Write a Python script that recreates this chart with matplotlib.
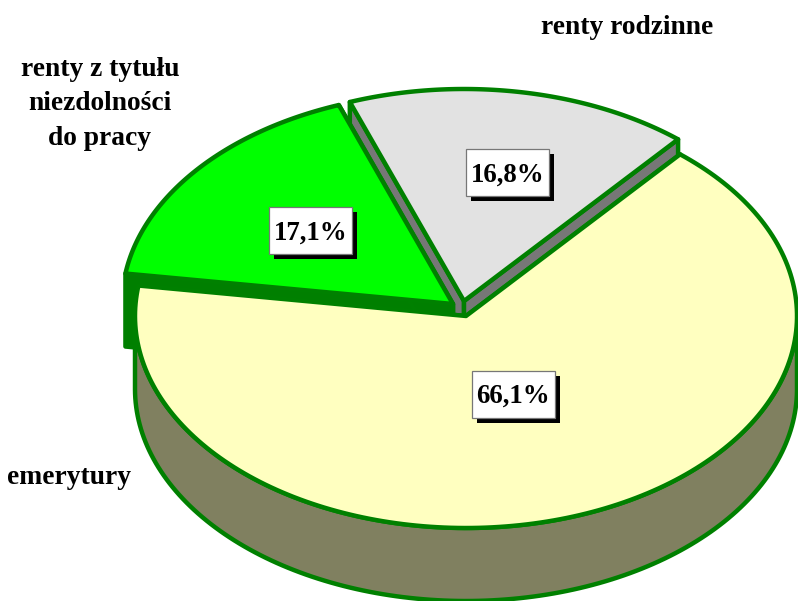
import numpy as np
import matplotlib
matplotlib.use("Agg")
import matplotlib.pyplot as plt
from matplotlib.patches import Polygon, Rectangle

categories = ["emerytury", "renty z tytułu\nniezdolności\ndo pracy", "renty rodzinne"]
shares = [66.1, 17.1, 16.8]
value_labels = ["66,1%", "17,1%", "16,8%"]
top_colors = ["#FFFFC0", "#00FF00", "#E2E2E2"]
side_colors = ["#808060", "#007F00", "#777777"]
edge_color = "#008000"
centers = [(466, 316), (453, 304), (464, 301)]
box_centers = [(513, 394), (310.5, 230.5), (507.5, 172.5)]
name_pos = [(69.5, 478), (100, 104), (627, 28)]

START = 49.7
RX, RY, DEPTH = 331, 212, 73
LW = 3.2
plt.rcParams["font.family"] = ["Liberation Serif", "DejaVu Serif"]

fig = plt.figure(figsize=(7.98, 6.01), dpi=100, facecolor="white")
ax = fig.add_axes([0, 0, 1, 1])
ax.set_xlim(0, 798)
ax.set_ylim(601, 0)
ax.axis("off")


def ell(c, t):
    t = np.radians(t)
    return np.column_stack([c[0] + RX * np.cos(t), c[1] - RY * np.sin(t)])


def draw_slice(c, t1, t2, top, side, z):
    """Slice running clockwise from parametric angle t1 down to t2."""
    ts = np.linspace(t1, t2, 200)
    arc = ell(c, ts)
    apex = np.array([c], dtype=float)
    down = np.array([0, DEPTH])
    # radial walls
    for p in (arc[0], arc[-1]):
        wall = np.array([apex[0], p, p + down, apex[0] + down])
        ax.add_patch(Polygon(wall, closed=True, fc=side, ec=edge_color, lw=LW,
                             joinstyle="round", zorder=z))
    # outer wall, only where it faces the viewer
    front = ts[np.sin(np.radians(ts)) <= 0]
    if len(front) > 1:
        a = ell(c, front)
        ax.add_patch(Polygon(np.vstack([a, (a + down)[::-1]]), closed=True,
                             fc=side, ec=edge_color, lw=LW, joinstyle="round", zorder=z))
    ax.add_patch(Polygon(np.vstack([apex, arc]), closed=True, fc=top, ec=edge_color,
                         lw=LW, joinstyle="round", zorder=z + 0.5))


# Angles come from the shares; the slices are painted back to front
angles = [START]
for s in [shares[0], shares[1], shares[2]]:
    angles.append(angles[-1] - s * 3.6)
draw_order = [2, 1, 0]
for z, i in enumerate(draw_order):
    draw_slice(centers[i], angles[i], angles[i + 1], top_colors[i], side_colors[i], z + 1)

BW, BH = 83, 47
for (x, y), lab in zip(box_centers, value_labels):
    ax.add_patch(Rectangle((x - BW / 2 + 5, y - BH / 2 + 5), BW, BH, fc="black", ec="none", zorder=10))
    ax.add_patch(Rectangle((x - BW / 2, y - BH / 2), BW, BH, fc="white", ec="#777777", lw=0.9, zorder=11))
    ax.text(x, y + 2.5, lab, ha="center", va="center", fontsize=19.4, fontweight="bold", color="black", zorder=12)

for (x, y), name in zip(name_pos, categories):
    ax.text(x, y, name, ha="center", va="center", fontsize=19.8, fontweight="bold",
            color="black", linespacing=1.52, zorder=12)

fig.savefig("out.png", dpi=100, facecolor="white")
